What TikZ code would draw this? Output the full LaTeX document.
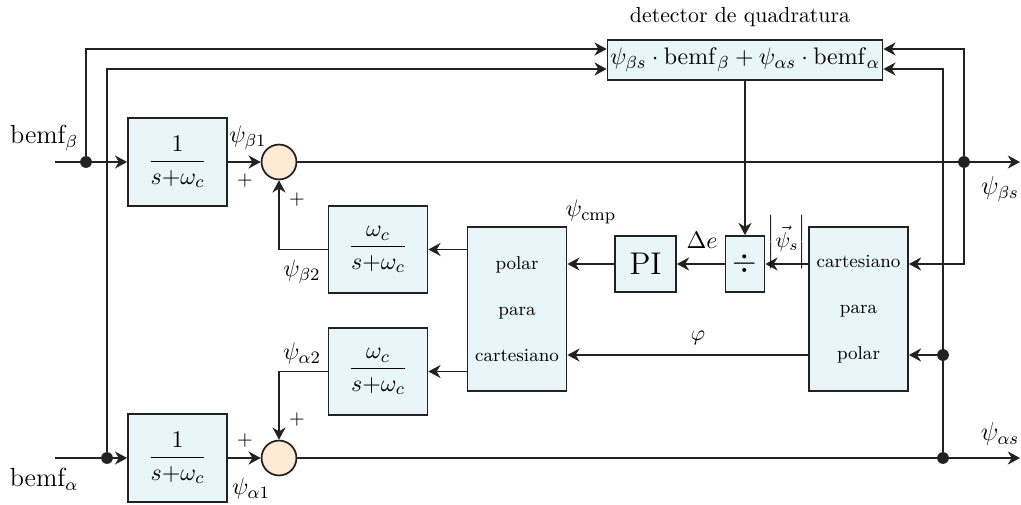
\documentclass[tikz,border=0pt]{standalone}
\usepackage{amsmath}
\usetikzlibrary{arrows.meta}
\definecolor{blkfill}{RGB}{232,246,250}
\definecolor{sumfill}{RGB}{253,235,214}
\definecolor{ln}{RGB}{34,34,34}

\begin{document}
\begin{tikzpicture}[x={(0.1612cm,0cm)},y={(0cm,-0.1612cm)},
  blk/.style={draw=ln, line width=0.8pt, fill=blkfill, minimum width=45.4pt, minimum height=40.2pt, inner sep=0pt, font=\fontsize{11}{13}\selectfont},
  conv/.style={blk, minimum height=75.2pt, align=center, font=\fontsize{8.5}{21}\selectfont},
  sumnode/.style={circle, draw=ln, line width=0.8pt, fill=sumfill, minimum size=16pt, inner sep=0pt},
  jdot/.style={circle, fill=ln, minimum size=5.4pt, inner sep=0pt},
  sig/.style={draw=ln, line width=0.8pt, -{Stealth[length=5.6pt,width=6pt,inset=1.8pt]}},
  wire/.style={draw=ln, line width=0.8pt},
  lbl/.style={font=\fontsize{11}{13}\selectfont},
  pm/.style={font=\small}]

\useasboundingbox (0,0) rectangle (102.1,50.4);

\node[blk] (lpfB) at (17.75,16.2) {$\displaystyle\frac{1}{s{+}\omega_c}$};
\node[blk] (lpfA) at (17.75,45.8) {$\displaystyle\frac{1}{s{+}\omega_c}$};
\node[blk] (compB) at (37.8,24.95) {$\displaystyle\frac{\omega_c}{s{+}\omega_c}$};
\node[blk] (compA) at (37.8,37.15) {$\displaystyle\frac{\omega_c}{s{+}\omega_c}$};
\node[sumnode] (sumB) at (27.9,16.2) {};
\node[sumnode] (sumA) at (27.9,45.8) {};
\node[conv] (pol2cart) at (51.7,30.9) {polar\\para\\cartesiano};
\node[conv] (cart2pol) at (85.85,30.9) {cartesiano\\para\\polar};
\node[blk, minimum width=28pt, minimum height=25.7pt, font=\Large] (pi) at (64.55,26.4) {PI};
\node[blk, minimum width=17.9pt, minimum height=25.7pt, font=\Large] (div) at (74.5,26.4) {$\div$};
\node[blk, minimum width=126.1pt, minimum height=18.3pt] (quad) at (74.5,6.0) {$\psi_{\beta s}\cdot\mathrm{bemf}_\beta+\psi_{\alpha s}\cdot\mathrm{bemf}_\alpha$};

\node[jdot] (dotB) at (8.6,16.2) {};
\node[jdot] (dotA) at (10.7,45.8) {};
\node[jdot] (dotBs) at (96.4,16.2) {};
\node[jdot] (dotAs) at (94.3,45.8) {};
\node[jdot] (dotphi) at (94.3,35.5) {};
\coordinate (inB) at (5.5,16.2);
\coordinate (inA) at (5.5,45.8);
\coordinate (outB) at (102.0,16.2);
\coordinate (outA) at (102.0,45.8);

\draw[sig] (inB) -- (lpfB);
\draw[sig] (inA) -- (lpfA);
\draw[sig] (lpfB) -- (sumB);
\draw[sig] (lpfA) -- (sumA);
\draw[sig] (sumB) -- (outB);
\draw[sig] (sumA) -- (outA);
\draw[sig] (compB.west) -| (sumB.south);
\draw[sig] (compA.west) -| (sumA.north);
\draw[sig] (pol2cart.west |- compB) -- (compB);
\draw[sig] (pol2cart.west |- compA) -- (compA);
\draw[sig] (pi) -- (pol2cart.east |- pi);
\draw[sig] (div) -- (pi);
\draw[sig] (cart2pol.west |- div) -- (div);
\draw[sig] (cart2pol.west |- dotphi) -- (pol2cart.east |- dotphi);
\draw[sig] (quad.south) -- (div.north);
\draw[sig] (dotB) |- (quad.west |- 0,4.9);
\draw[sig] (dotA) |- (quad.west |- 0,6.9);
\draw[sig] (dotBs) |- (quad.east |- 0,4.9);
\draw[sig] (dotAs) |- (quad.east |- 0,6.9);
\draw[sig] (dotBs) |- (cart2pol.east |- div);
\draw[sig] (dotphi) -- (cart2pol.east |- dotphi);

\node[font=\large] (lbemfB) at (4.4,13.8) {bemf$_\beta$};
\node[font=\large] (lbemfA) at (4.4,47.9) {bemf$_\alpha$};
\node[lbl] (lpsiB1) at (24.8,13.8) {$\psi_{\beta1}$};
\node[lbl] (lpsiB2) at (30.2,27.2) {$\psi_{\beta2}$};
\node[lbl] (lpsiA2) at (30.2,35.4) {$\psi_{\alpha2}$};
\node[lbl] (lpsiA1) at (25.1,48.9) {$\psi_{\alpha1}$};
\node[font=\large] (lpsiBs) at (100.0,18.9) {$\psi_{\beta s}$};
\node[font=\large] (lpsiAs) at (100.0,43.4) {$\psi_{\alpha s}$};
\node[lbl] (lcmp) at (59.1,21.2) {$\psi_{\mathrm{cmp}}$};
\node[lbl] (lerr) at (70.2,24.0) {$\Delta e$};
\node (lmag) at (78.7,24.2) {$\bigg|\vec{\psi}_s\bigg|$};
\node (lphi) at (69.8,33.8) {$\varphi$};
\node (lquad) at (74.0,1.7) {detector de quadratura};
\node[pm] (pB1) at (24.5,18.1) {$+$};
\node[pm] (pB2) at (29.7,20.0) {$+$};
\node[pm] (pA1) at (24.5,44.1) {$+$};
\node[pm] (pA2) at (29.7,42.0) {$+$};
\end{tikzpicture}
\end{document}
